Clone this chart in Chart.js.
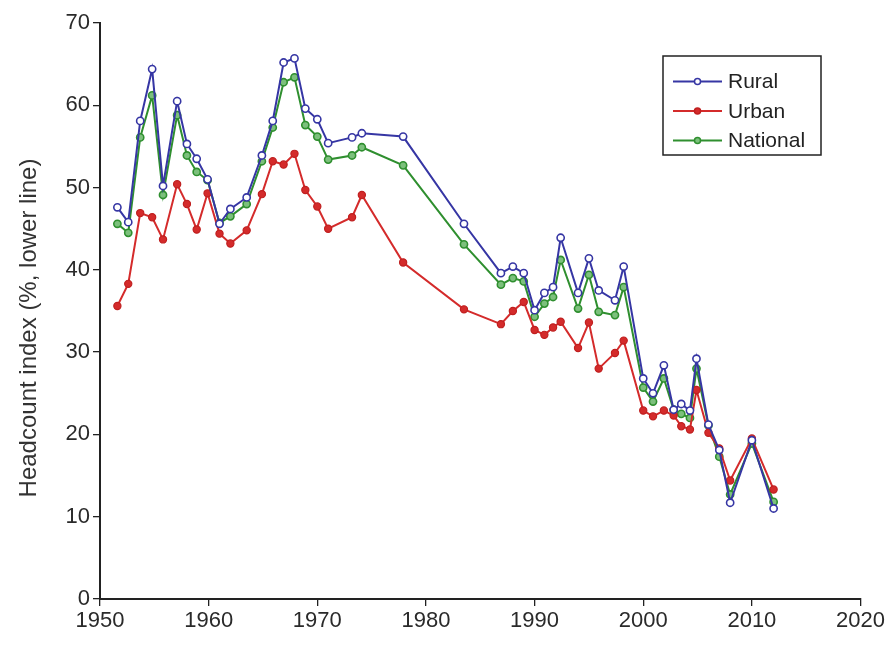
<!DOCTYPE html>
<html>
<head>
<meta charset="utf-8">
<script src="https://cdn.jsdelivr.net/npm/chart.js@4.4.1/dist/chart.umd.min.js"></script>
<style>
html,body{margin:0;padding:0;background:#fff;}
#wrap{width:887px;height:648px;position:relative;}
</style>
</head>
<body>
<div id="wrap"><canvas id="c" width="887" height="648"></canvas></div>
<script>
const years = [1951.6, 1952.6, 1953.7, 1954.8, 1955.8, 1957.1, 1958.0, 1958.9, 1959.9, 1961.0,
  1962.0, 1963.5, 1964.9, 1965.9, 1966.9, 1967.9, 1968.9, 1970.0, 1971.0, 1973.2,
  1974.1, 1977.9, 1983.5, 1986.9, 1988.0, 1989.0, 1990.0, 1990.9, 1991.7, 1992.4,
  1994.0, 1995.0, 1995.9, 1997.4, 1998.2, 2000.0, 2000.9, 2001.9, 2002.8, 2003.5,
  2004.3, 2004.9, 2006.0, 2007.0, 2008.0, 2010.0, 2012.0];
const rural = [47.6, 45.8, 58.1, 64.4, 50.2, 60.5, 55.3, 53.5, 51.0, 45.6,
  47.4, 48.8, 53.9, 58.1, 65.2, 65.7, 59.6, 58.3, 55.4, 56.1,
  56.6, 56.2, 45.6, 39.6, 40.4, 39.6, 35.1, 37.2, 37.9, 43.9,
  37.2, 41.4, 37.5, 36.3, 40.4, 26.8, 25.0, 28.4, 23.0, 23.7,
  22.9, 29.2, 21.2, 18.1, 11.7, 19.3, 11.0];
const urban = [35.6, 38.3, 46.9, 46.4, 43.7, 50.4, 48.0, 44.9, 49.3, 44.4,
  43.2, 44.8, 49.2, 53.2, 52.8, 54.1, 49.7, 47.7, 45.0, 46.4,
  49.1, 40.9, 35.2, 33.4, 35.0, 36.1, 32.7, 32.1, 33.0, 33.7,
  30.5, 33.6, 28.0, 29.9, 31.4, 22.9, 22.2, 22.9, 22.3, 21.0,
  20.6, 25.4, 20.2, 18.3, 14.4, 19.5, 13.3];
const national = [45.6, 44.5, 56.1, 61.2, 49.1, 58.8, 53.9, 51.9, 50.9, 45.7,
  46.5, 48.0, 53.2, 57.3, 62.8, 63.4, 57.6, 56.2, 53.4, 53.9,
  54.9, 52.7, 43.1, 38.2, 39.0, 38.6, 34.3, 35.9, 36.7, 41.2,
  35.3, 39.4, 34.9, 34.5, 37.9, 25.7, 24.0, 26.8, 23.0, 22.5,
  22.0, 28.0, 21.1, 17.3, 12.7, 18.9, 11.8];
const seriesNames = ['Rural', 'Urban', 'National'];
const xTicks = [1950, 1960, 1970, 1980, 1990, 2000, 2010, 2020];
const yTicks = [0, 10, 20, 30, 40, 50, 60, 70];
const yTitle = 'Headcount index (%, lower line)';

const FONT = '"Liberation Sans", Arial, sans-serif';
const C_RURAL = '#3636a4', C_URBAN = '#d42b2b', C_NAT = '#2f8f2f';
const toXY = (arr) => years.map((y, i) => ({x: y, y: arr[i]}));

const boxLegend = {
  id: 'boxLegend',
  afterDraw(chart) {
    const ctx = chart.ctx;
    const ds = chart.data.datasets;
    const bx = 663, by = 56, bw = 158, bh = 99;
    ctx.save();
    ctx.strokeStyle = '#222';
    ctx.lineWidth = 1.5;
    ctx.fillStyle = '#fff';
    ctx.fillRect(bx, by, bw, bh);
    ctx.strokeRect(bx, by, bw, bh);
    const rows = [81.5, 111, 140.5];
    ds.forEach((d, i) => {
      const yy = rows[i];
      ctx.strokeStyle = d.borderColor;
      ctx.lineWidth = 2;
      ctx.beginPath(); ctx.moveTo(673, yy); ctx.lineTo(722, yy); ctx.stroke();
      ctx.beginPath(); ctx.arc(697.5, yy, 3, 0, Math.PI * 2);
      ctx.fillStyle = d.pointBackgroundColor; ctx.fill();
      ctx.lineWidth = 1.5; ctx.strokeStyle = d.pointBorderColor; ctx.stroke();
      ctx.fillStyle = '#222';
      ctx.font = '21px ' + FONT;
      ctx.textBaseline = 'middle';
      ctx.textAlign = 'left';
      ctx.fillText(d.label, 728, yy + 1);
    });
    ctx.restore();
  }
};

const yTitlePlugin = {
  id: 'yTitlePlugin',
  afterDraw(chart) {
    const ctx = chart.ctx;
    ctx.save();
    ctx.translate(29, 328);
    ctx.rotate(-Math.PI / 2);
    ctx.fillStyle = '#333';
    ctx.font = '24px ' + FONT;
    ctx.textAlign = 'center';
    ctx.textBaseline = 'middle';
    ctx.fillText(yTitle, 0, 0);
    ctx.restore();
  }
};

new Chart(document.getElementById('c'), {
  type: 'line',
  data: {
    datasets: [
      {label: seriesNames[0], data: toXY(rural), borderColor: C_RURAL, borderWidth: 2,
       pointBackgroundColor: '#ffffff', pointBorderColor: C_RURAL, pointBorderWidth: 1.6, pointRadius: 3.6, tension: 0},
      {label: seriesNames[1], data: toXY(urban), borderColor: C_URBAN, borderWidth: 2,
       pointBackgroundColor: C_URBAN, pointBorderColor: '#c02020', pointBorderWidth: 1.2, pointRadius: 3.6, tension: 0},
      {label: seriesNames[2], data: toXY(national), borderColor: C_NAT, borderWidth: 2,
       pointBackgroundColor: '#7cc07c', pointBorderColor: C_NAT, pointBorderWidth: 1.6, pointRadius: 3.6, tension: 0}
    ]
  },
  options: {
    responsive: false,
    animation: false,
    devicePixelRatio: 1,
    layout: {padding: {left: 0, right: 26, top: 23, bottom: 0}},
    plugins: {legend: {display: false}, tooltip: {enabled: false}},
    scales: {
      x: {
        type: 'linear', min: 1950, max: 2020,
        afterBuildTicks: (s) => { s.ticks = xTicks.map(v => ({value: v})); },
        afterFit: (s) => { s.height = 49; },
        grid: {drawOnChartArea: false, drawTicks: true, tickLength: 7, color: '#222', lineWidth: 1.3},
        border: {display: true, color: '#222', width: 2},
        ticks: {color: '#2a2a2a', font: {size: 22, family: FONT}, padding: 2, maxRotation: 0,
                callback: (v) => String(v)}
      },
      y: {
        type: 'linear', min: 0, max: 70,
        afterBuildTicks: (s) => { s.ticks = yTicks.map(v => ({value: v})); },
        afterFit: (s) => { s.width = 100; },
        grid: {drawOnChartArea: false, drawTicks: true, tickLength: 7, color: '#222', lineWidth: 1.3},
        border: {display: true, color: '#222', width: 2},
        ticks: {color: '#2a2a2a', font: {size: 22, family: FONT}, padding: 3}
      }
    }
  },
  plugins: [boxLegend, yTitlePlugin]
});
</script>
</body>
</html>
